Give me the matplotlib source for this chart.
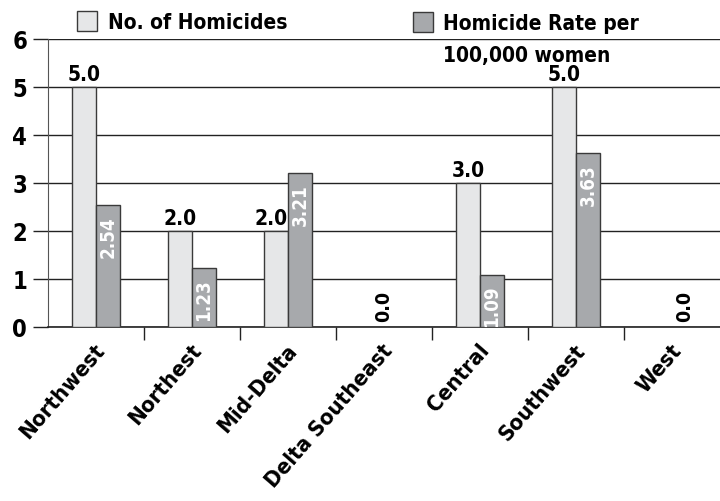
import matplotlib
matplotlib.use("Agg")
import matplotlib.pyplot as plt
import matplotlib.transforms as mtransforms
import numpy as np
from matplotlib.patches import Rectangle

plt.rcParams['font.family'] = ['DejaVu Sans']
plt.rcParams['font.stretch'] = 'condensed'

categories = ["Northwest", "Northest", "Mid-Delta", "Delta Southeast", "Central", "Southwest", "West"]
homicides = [5.0, 2.0, 2.0, 0.0, 3.0, 5.0, 0.0]
rates = [2.54, 1.23, 3.21, 0.0, 1.09, 3.63, 0.0]
yticks = [0, 1, 2, 3, 4, 5, 6]

light = "#e6e7e8"
dark = "#a7a9ac"
edge = "#3a3a3a"

fig = plt.figure(figsize=(7.2, 5.02), dpi=100)
ax = fig.add_axes([48/720, 1-328/502, 1-48/720, (328-40)/502])

x = np.arange(len(categories))
w = 0.25
ax.bar(x - w/2, homicides, w, color=light, edgecolor=edge, linewidth=1.0, zorder=3)
ax.bar(x + w/2, rates, w, color=dark, edgecolor=edge, linewidth=1.0, zorder=3)

ax.set_xlim(-0.5, len(categories) - 0.5)
ax.set_ylim(0, 6)
ax.set_yticks(yticks)
ax.set_yticklabels([str(t) for t in yticks], fontsize=17, fontweight='bold')
ax.yaxis.grid(True, color="#222222", linewidth=1.0, zorder=0)
ax.set_axisbelow(True)

ax.set_xticks(x)
ax.set_xticklabels(categories, rotation=49, ha='right', rotation_mode='anchor',
                   fontsize=16, fontweight='bold')
ax.tick_params(axis='x', which='major', length=0, pad=9)
offset = mtransforms.ScaledTranslation(-2/100, 0, fig.dpi_scale_trans)
for lbl in ax.get_xticklabels():
    lbl.set_transform(lbl.get_transform() + offset)
ax.set_xticks(np.arange(0.5, len(categories) - 1), minor=True)
ax.tick_params(axis='x', which='minor', length=9, width=1.0, color="#222222")
ax.tick_params(axis='y', length=11, width=1.0, color="#222222", pad=4)

for s in ['top', 'right']:
    ax.spines[s].set_visible(False)
ax.spines['left'].set_color("#555555")
ax.spines['bottom'].set_color("#222222")
ax.spines['bottom'].set_linewidth(1.2)

# labels
for i, (h, r) in enumerate(zip(homicides, rates)):
    if h > 0:
        if r > h:
            ax.text(i, h + 0.06, f"{h:.1f}", ha='right', va='bottom', fontsize=15, fontweight='bold', zorder=5)
        else:
            ax.text(i - w/2, h + 0.06, f"{h:.1f}", ha='center', va='bottom', fontsize=15, fontweight='bold', zorder=5)
    if r > 0:
        ax.text(i + w/2, r - 0.21, f"{r:.2f}", ha='center', va='top', rotation=90,
                fontsize=13.5, fontweight='bold', color='white', zorder=5)
    if h == 0 and r == 0:
        ax.text(i + (0.13 if i == len(categories)-1 else 0), 0.12, "0.0", ha='center', va='bottom', rotation=90,
                fontsize=14, fontweight='bold', zorder=5)

# legend
fig.patches.append(Rectangle((77/720, 1-32/502), 20/720, 20/502, transform=fig.transFigure,
                             facecolor=light, edgecolor=edge, linewidth=1.0))
fig.text(108/720, 1-23/502, "No. of Homicides", ha='left', va='center', fontsize=15, fontweight='bold')
fig.patches.append(Rectangle((413/720, 1-33/502), 20/720, 20/502, transform=fig.transFigure,
                             facecolor=dark, edgecolor=edge, linewidth=1.0))
fig.text(443/720, 1-24/502, "Homicide Rate per", ha='left', va='center', fontsize=15, fontweight='bold')
fig.text(443/720, 1-56/502, "100,000 women", ha='left', va='center', fontsize=15, fontweight='bold')

fig.savefig("out.png", dpi=100)
